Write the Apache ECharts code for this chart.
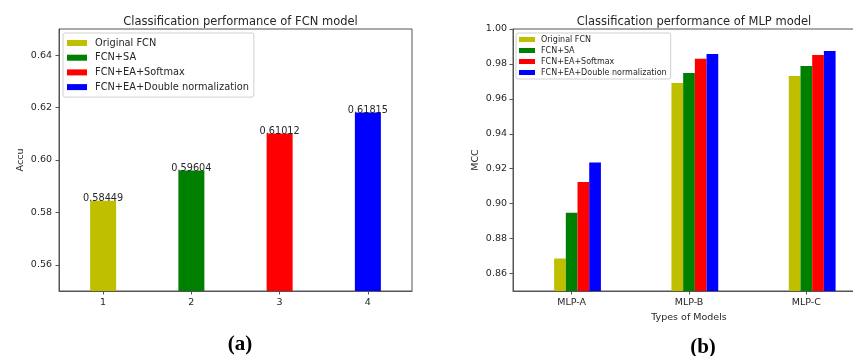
<!DOCTYPE html>
<html>
<head>
<meta charset="utf-8">
<script src="https://cdn.jsdelivr.net/npm/echarts@6/dist/echarts.min.js"></script>
<style>
  html, body { margin: 0; padding: 0; background: #fff; }
  #chart { width: 853px; height: 356px; }
</style>
</head>
<body>
<div id="chart"></div>
<script>
// 数据
const seriesNames = ["Original FCN", "FCN+SA", "FCN+EA+Softmax", "FCN+EA+Double normalization"];
const colors = ["#bfbf00", "#008000", "#ff0000", "#0000ff"];

// (a) FCN
const fcnCategories = ["1", "2", "3", "4"];
const fcnAccu = [0.58449, 0.59604, 0.61012, 0.61815];
const fcnTicks = [0.56, 0.58, 0.60, 0.62, 0.64];

// (b) MLP
const mlpCategories = ["MLP-A", "MLP-B", "MLP-C"];
const mlpOriginal = [0.8686, 0.9691, 0.9731];
const mlpSA = [0.8948, 0.9748, 0.9788];
const mlpSoftmax = [0.9124, 0.9830, 0.9851];
const mlpDouble = [0.9236, 0.9857, 0.9874];
const mlpTicks = [0.86, 0.88, 0.90, 0.92, 0.94, 0.96, 0.98, 1.00];

const font = "DejaVu Sans";
const txt = "#262626";
const frame = "#555";

const myChart = echarts.init(document.getElementById("chart"));

// 每个柱子一个系列，重叠放置
const fcnSeries = fcnAccu.map((v, i) => ({
  name: seriesNames[i],
  type: "bar",
  xAxisIndex: 0,
  yAxisIndex: 0,
  barWidth: 26,
  barGap: "-100%",
  itemStyle: { color: colors[i] },
  data: fcnCategories.map((_, j) => (j === i ? v : "-")),
  label: {
    show: true,
    position: "top",
    distance: -3,
    fontFamily: font,
    fontSize: 9.7,
    color: txt,
    formatter: (p) => p.value.toFixed(5),
  },
}));

// 占位系列让刻度对齐第二根柱子（同 matplotlib 的 x + w）
const mlpValues = [mlpOriginal, mlpSA, mlpSoftmax, mlpDouble];
const mlpSeries = [{
  name: "_pad",
  type: "bar",
  xAxisIndex: 1,
  yAxisIndex: 1,
  barWidth: 11.7,
  barGap: 0,
  data: [],
}].concat(mlpValues.map((arr, i) => ({
  name: seriesNames[i],
  type: "bar",
  xAxisIndex: 1,
  yAxisIndex: 1,
  barWidth: 11.7,
  barGap: 0,
  itemStyle: { color: colors[i] },
  data: arr,
})));

const axisCommon = {
  axisLine: { lineStyle: { color: frame, width: 1 } },
  axisTick: { show: true, inside: false, length: 3.5, lineStyle: { color: frame } },
  splitLine: { show: false },
};

const option = {
  animation: false,
  title: [
    {
      text: "Classification performance of FCN model",
      left: 235.5, top: 11, textAlign: "center",
      textStyle: { fontFamily: font, fontSize: 11.5, fontWeight: "normal", color: txt },
    },
    {
      text: "Classification performance of MLP model",
      left: 689, top: 11, textAlign: "center",
      textStyle: { fontFamily: font, fontSize: 11.5, fontWeight: "normal", color: txt },
    },
    {
      text: "(a)",
      left: 235, top: 329, textAlign: "center",
      textStyle: { fontFamily: "Liberation Serif", fontSize: 21, fontWeight: "bold", color: "#000" },
    },
    {
      text: "(b)",
      left: 698, top: 332, textAlign: "center",
      textStyle: { fontFamily: "Liberation Serif", fontSize: 21, fontWeight: "bold", color: "#000" },
    },
  ],
  legend: [
    {
      data: seriesNames,
      orient: "vertical",
      left: 63, top: 33,
      padding: [4, 5, 4, 4],
      itemWidth: 20, itemHeight: 6, itemGap: 2.7,
      icon: "rect",
      backgroundColor: "#fff",
      borderColor: "#d0d0d0", borderWidth: 1, borderRadius: 2,
      textStyle: { fontFamily: font, fontSize: 9.8, lineHeight: 12, color: txt, padding: [0, 0, 0, 3] },
      selectedMode: false,
    },
    {
      data: seriesNames,
      orient: "vertical",
      left: 516, top: 33,
      padding: [2, 4, 2, 3],
      itemWidth: 16, itemHeight: 5, itemGap: 2,
      icon: "rect",
      backgroundColor: "#fff",
      borderColor: "#d0d0d0", borderWidth: 1, borderRadius: 2,
      textStyle: { fontFamily: font, fontSize: 8, lineHeight: 9, color: txt, padding: [0, 0, 0, 1] },
      selectedMode: false,
    },
  ],
  grid: [
    { left: 59, top: 29, width: 353, height: 262, show: true, borderColor: frame, borderWidth: 1, containLabel: false, outerBoundsMode: "none" },
    // 右图在原图中被裁掉右边框
    { left: 513, top: 29, width: 352, height: 262, show: true, borderColor: frame, borderWidth: 1, containLabel: false, outerBoundsMode: "none" },
  ],
  xAxis: [
    Object.assign({}, axisCommon, {
      type: "category",
      gridIndex: 0,
      data: fcnCategories,
      axisTick: Object.assign({}, axisCommon.axisTick, { alignWithLabel: true }),
      axisLabel: { fontFamily: font, fontSize: 9.5, color: txt, margin: 7 },
    }),
    Object.assign({}, axisCommon, {
      type: "category",
      gridIndex: 1,
      data: mlpCategories,
      axisTick: Object.assign({}, axisCommon.axisTick, { alignWithLabel: true }),
      axisLabel: { fontFamily: font, fontSize: 9.5, color: txt, margin: 7 },
      name: "Types of Models",
      nameLocation: "middle",
      nameGap: 20,
      nameTextStyle: { fontFamily: font, fontSize: 9.5, color: txt },
    }),
  ],
  yAxis: [
    Object.assign({}, axisCommon, {
      type: "value",
      gridIndex: 0,
      min: 0.55, max: 0.65,
      axisLine: { show: true, lineStyle: { color: frame, width: 1 } },
      axisTick: Object.assign({}, axisCommon.axisTick, { customValues: fcnTicks }),
      axisLabel: {
        customValues: fcnTicks,
        formatter: (v) => v.toFixed(2),
        fontFamily: font, fontSize: 9.5, color: txt, margin: 7,
      },
      name: "Accu",
      nameLocation: "middle",
      nameGap: 33,
      nameTextStyle: { fontFamily: font, fontSize: 9.5, color: txt },
    }),
    Object.assign({}, axisCommon, {
      type: "value",
      gridIndex: 1,
      min: 0.85, max: 1.0,
      axisLine: { show: true, lineStyle: { color: frame, width: 1 } },
      axisTick: Object.assign({}, axisCommon.axisTick, { customValues: mlpTicks }),
      axisLabel: {
        customValues: mlpTicks,
        formatter: (v) => v.toFixed(2),
        fontFamily: font, fontSize: 9.5, color: txt, margin: 6,
      },
      name: "MCC",
      nameLocation: "middle",
      nameGap: 32,
      nameTextStyle: { fontFamily: font, fontSize: 9.5, color: txt },
    }),
  ],
  series: fcnSeries.concat(mlpSeries),
};

myChart.setOption(option);
window.addEventListener("resize", function () {
  myChart.resize();
});
</script>
</body>
</html>
